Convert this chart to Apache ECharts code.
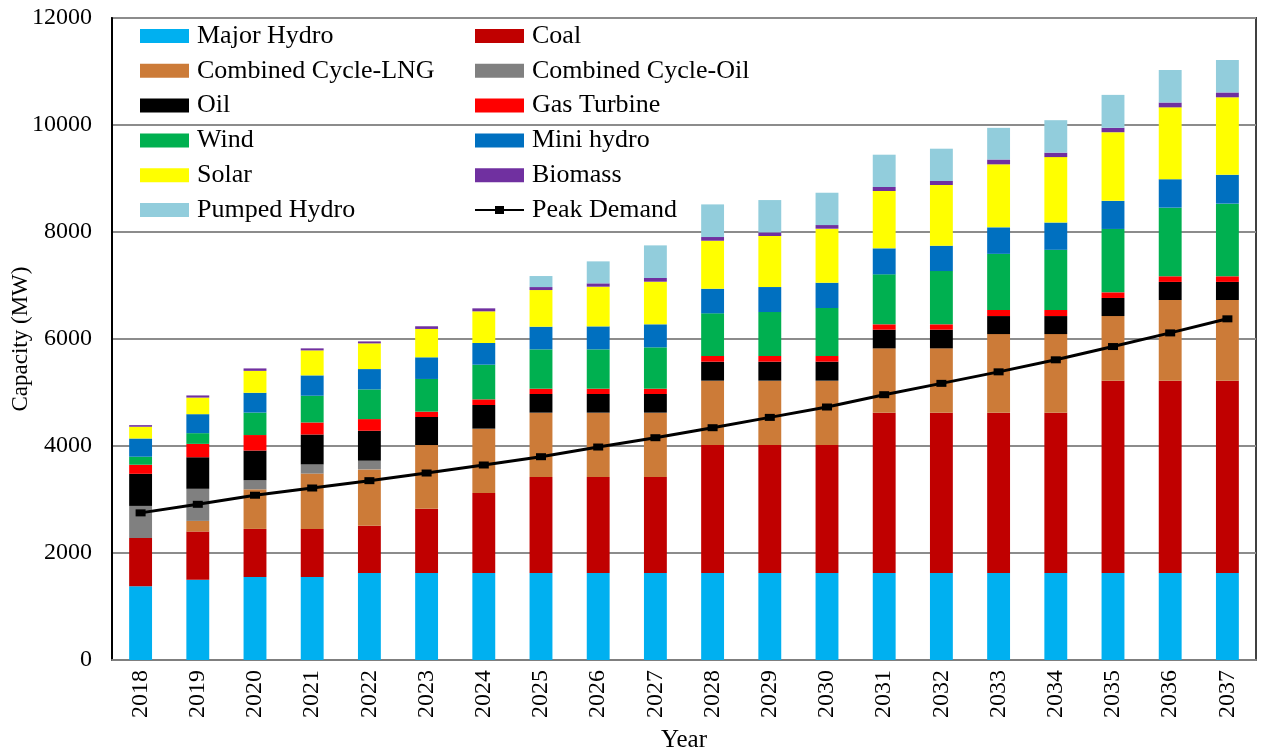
<!DOCTYPE html>
<html>
<head>
<meta charset="utf-8">
<script src="https://cdn.jsdelivr.net/npm/echarts@6/dist/echarts.min.js"></script>
<style>
  html, body { margin: 0; padding: 0; background: #fff; }
  #capacityChart { width: 1261px; height: 751px; }
</style>
</head>
<body>
<div id="capacityChart"></div>
<script>
  // years on the x axis
  const years = ['2018', '2019', '2020', '2021', '2022', '2023', '2024', '2025', '2026', '2027',
    '2028', '2029', '2030', '2031', '2032', '2033', '2034', '2035', '2036', '2037'];

  // capacity per source (MW), stacked bottom to top
  const majorHydro = [1380, 1500, 1550, 1550, 1625, 1626, 1626, 1626, 1626, 1626,
    1626, 1626, 1626, 1626, 1626, 1626, 1626, 1626, 1626, 1626];
  const coal = [900, 900, 900, 900, 885, 1202, 1495, 1794, 1794, 1794,
    2392, 2392, 2392, 2997, 2997, 2994, 2994, 3595, 3595, 3595];
  const ccLNG = [0, 200, 740, 1035, 1053, 1190, 1203, 1203, 1203, 1203,
    1203, 1203, 1203, 1202, 1202, 1472, 1472, 1208, 1508, 1508];
  const ccOil = [600, 600, 170, 170, 162, 0, 0, 0, 0, 0,
    0, 0, 0, 0, 0, 0, 0, 0, 0, 0];
  const oil = [600, 590, 555, 560, 560, 524, 442, 349, 349, 349,
    355, 355, 355, 349, 349, 337, 337, 338, 338, 338];
  const gasTurbine = [170, 250, 290, 225, 218, 100, 106, 99, 99, 99,
    106, 106, 106, 100, 100, 113, 113, 105, 105, 105];
  const wind = [150, 200, 420, 500, 555, 611, 648, 735, 735, 773,
    797, 822, 897, 934, 996, 1050, 1125, 1185, 1283, 1358];
  const miniHydro = [340, 355, 370, 380, 380, 405, 405, 424, 430, 430,
    461, 467, 473, 486, 474, 495, 510, 525, 532, 540];
  const solar = [220, 310, 410, 467, 480, 530, 592, 685, 742, 797,
    897, 954, 1010, 1072, 1135, 1178, 1223, 1283, 1343, 1448];
  const biomass = [30, 40, 45, 38, 37, 50, 56, 56, 62, 69,
    69, 68, 68, 75, 74, 90, 83, 82, 90, 90];
  const pumpedHydro = [0, 0, 0, 0, 0, 0, 0, 206, 411, 610,
    610, 604, 604, 604, 604, 592, 607, 616, 608, 607];

  // peak demand (MW)
  const peakDemand = [2750, 2910, 3080, 3215, 3352, 3495, 3645, 3800, 3981, 4155,
    4342, 4535, 4729, 4959, 5171, 5386, 5611, 5859, 6114, 6377];

  const font = '"Liberation Serif", "Times New Roman", serif';

  const stacks = [
    {name: 'Major Hydro', data: majorHydro, color: '#00b0f0'},
    {name: 'Coal', data: coal, color: '#c00000'},
    {name: 'Combined Cycle-LNG', data: ccLNG, color: '#cc7b38'},
    {name: 'Combined Cycle-Oil', data: ccOil, color: '#808080'},
    {name: 'Oil', data: oil, color: '#000000'},
    {name: 'Gas Turbine', data: gasTurbine, color: '#ff0000'},
    {name: 'Wind', data: wind, color: '#00b050'},
    {name: 'Mini hydro', data: miniHydro, color: '#0070c0'},
    {name: 'Solar', data: solar, color: '#ffff00'},
    {name: 'Biomass', data: biomass, color: '#7030a0'},
    {name: 'Pumped Hydro', data: pumpedHydro, color: '#92cddc'}
  ];

  let series = stacks.map((s) => ({
    name: s.name,
    type: 'bar',
    stack: 'capacity',
    barWidth: '40%',
    data: s.data,
    itemStyle: {color: s.color},
    emphasis: {disabled: true}
  }));

  series.push({
    name: 'Peak Demand',
    type: 'line',
    data: peakDemand,
    symbol: 'rect',
    symbolSize: [10, 7],
    itemStyle: {color: '#000'},
    lineStyle: {color: '#000', width: 3},
    z: 5
  });

  const legendText = {fontFamily: font, fontSize: 26, color: '#000', lineHeight: 26, padding: [0, 0, 0, 3]};

  /*图例分两列*/
  const legendBase = {
    orient: 'vertical',
    top: 18,
    itemWidth: 49,
    itemHeight: 14,
    itemGap: 8.8,
    icon: 'rect',
    textStyle: legendText
  };

  let chart = echarts.init(document.getElementById('capacityChart'));
  chart.setOption({
    animation: false,
    textStyle: {fontFamily: font},
    grid: {
      left: 112, right: 5, top: 18, bottom: 91,
      outerBoundsMode: 'none', containLabel: false,
      show: true, borderColor: '#404040', borderWidth: 2
    },
    legend: [
      Object.assign({}, legendBase, {
        left: 135,
        data: ['Major Hydro', 'Combined Cycle-LNG', 'Oil', 'Wind', 'Solar', 'Pumped Hydro']
      }),
      Object.assign({}, legendBase, {
        left: 470,
        data: ['Coal', 'Combined Cycle-Oil', 'Gas Turbine', 'Mini hydro', 'Biomass',
          {name: 'Peak Demand', icon: 'path://M0,6 L20,6 L20,3 L29,3 L29,6 L49,6 L49,8 L29,8 L29,11 L20,11 L20,8 L0,8 Z'}]
      })
    ],
    xAxis: {
      type: 'category',
      data: years,
      name: 'Year',
      nameLocation: 'middle',
      nameGap: 68,
      nameMoveOverlap: false,
      nameTextStyle: {fontFamily: font, fontSize: 25, color: '#000'},
      axisLine: {lineStyle: {color: '#7f7f7f', width: 2}},
      axisTick: {show: false},
      axisLabel: {rotate: 90, fontFamily: font, fontSize: 24, color: '#000', margin: 10}
    },
    yAxis: {
      type: 'value',
      min: 0,
      max: 12000,
      interval: 2000,
      name: 'Capacity (MW)',
      nameLocation: 'middle',
      nameGap: 80,
      nameMoveOverlap: false,
      nameTextStyle: {fontFamily: font, fontSize: 23, color: '#000'},
      axisLine: {show: true, lineStyle: {color: '#000', width: 2}},
      axisTick: {show: false},
      axisLabel: {fontFamily: font, fontSize: 24, color: '#000', margin: 20, formatter: (v) => String(v)},
      splitLine: {lineStyle: {color: '#8c8c8c', width: 2}}
    },
    series: series
  });
</script>
</body>
</html>
